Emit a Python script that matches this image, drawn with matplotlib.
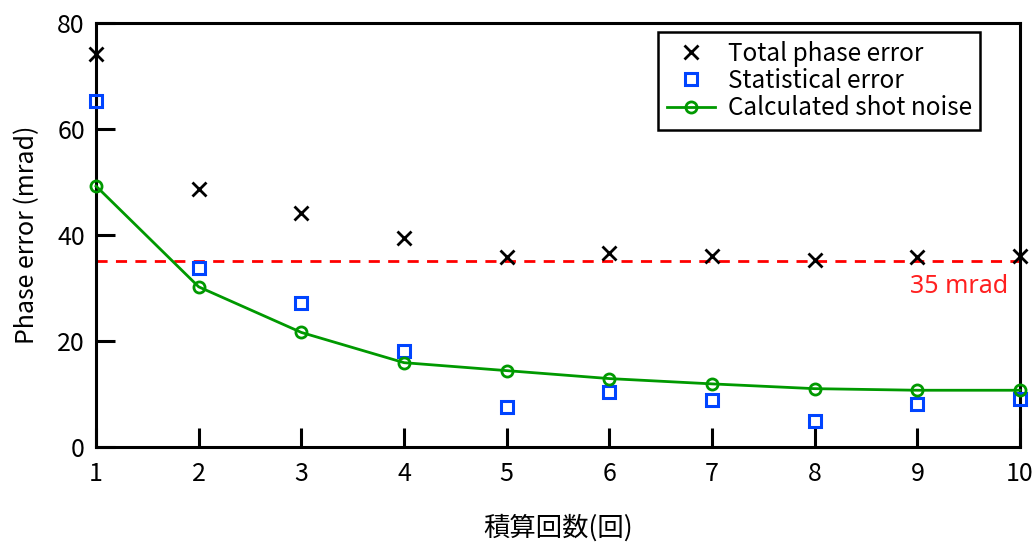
import matplotlib
matplotlib.use("Agg")
import matplotlib.pyplot as plt

plt.rcParams['font.family'] = ['Noto Sans CJK JP', 'DejaVu Sans']

counts = [1, 2, 3, 4, 5, 6, 7, 8, 9, 10]
total_error = [74.1, 48.7, 44.1, 39.4, 35.8, 36.6, 36.1, 35.3, 35.8, 36.1]
stat_error = [65.3, 33.7, 27.1, 18.1, 7.5, 10.4, 8.8, 4.9, 8.1, 9.0]
shot_noise = [49.2, 30.2, 21.6, 15.9, 14.4, 12.9, 11.9, 11.0, 10.7, 10.7]
threshold = 35

fig = plt.figure(figsize=(10.35, 5.42), dpi=100)
ax = fig.add_axes([0.0928, 0.1753, 0.8927, 0.7827])

ax.plot(counts, total_error, 'x', color='black', markersize=10, markeredgewidth=2,
        label='Total phase error', clip_on=False, zorder=4)
ax.plot(counts, stat_error, 's', color='#0044ff', markerfacecolor='none', markersize=8.5,
        markeredgewidth=2.2, label='Statistical error', clip_on=False, zorder=3)
ax.plot(counts, shot_noise, '-o', color='#009900', markerfacecolor='none', markersize=8,
        markeredgewidth=2, linewidth=2, label='Calculated shot noise', clip_on=False, zorder=3)
ax.axhline(threshold, color='#ff0000', linestyle=(0, (4, 3)), linewidth=2, zorder=2)
ax.text(9.88, 30.2, '35 mrad', color='#ff2020', fontsize=18, ha='right', va='center',
        family=['Noto Sans', 'DejaVu Sans'])

ax.set_xlim(1, 10)
ax.set_ylim(0, 80)
ax.set_xticks(counts)
ax.set_yticks([0, 20, 40, 60, 80])

for s in ax.spines.values():
    s.set_linewidth(2.2)
ax.tick_params(direction='in', length=14, width=2.2, labelsize=18)
ax.tick_params(axis='x', pad=10)
ax.tick_params(axis='y', pad=8)

ax.set_ylabel('Phase error (mrad)', fontsize=18, labelpad=12)
ax.set_xlabel('積算回数(回)', fontsize=19, labelpad=20)

leg = ax.legend(loc='upper right', bbox_to_anchor=(0.957, 0.978), fontsize=17.5,
                fancybox=False, edgecolor='black', framealpha=1, borderpad=0.35,
                labelspacing=0.05, handlelength=2, handletextpad=0.5, borderaxespad=0)
leg.get_frame().set_linewidth(1.8)

fig.savefig('out.png', dpi=100)
